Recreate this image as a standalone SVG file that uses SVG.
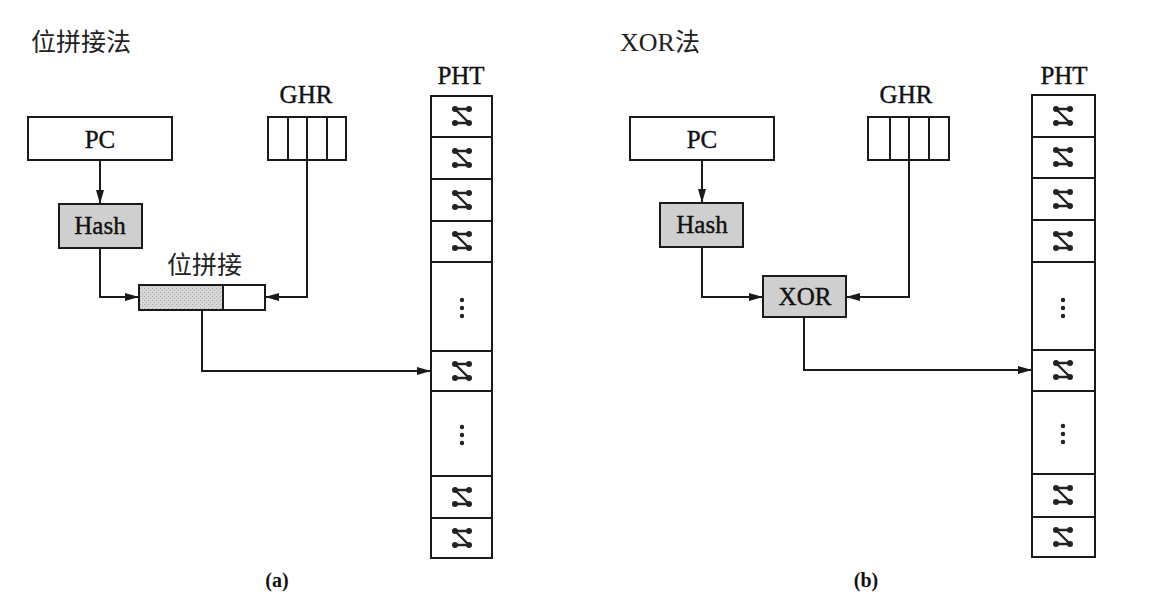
<svg xmlns="http://www.w3.org/2000/svg" xmlns:xlink="http://www.w3.org/1999/xlink" width="1168" height="592" viewBox="0 0 1168 592">
<style>
.box{fill:#fff;stroke:#1a1a1a;stroke-width:2}
.gray{fill:#cfcfcf;stroke:#1a1a1a;stroke-width:2}
.ln{fill:none;stroke:#1a1a1a;stroke-width:2}
.conn{fill:none;stroke:#1a1a1a;stroke-width:2;marker-end:url(#arr)}
.t{font-family:"Liberation Serif","Times New Roman",serif;font-size:25px;fill:#111;text-anchor:middle;stroke:#111;stroke-width:0.4}
.cj{font-family:"Noto Sans CJK SC","Liberation Serif",sans-serif;font-size:25px;fill:#222}
.lat{font-family:"Liberation Serif",serif;font-size:26px}
.cap{font-family:"Liberation Serif",serif;font-size:20px;font-weight:bold;fill:#111;text-anchor:middle}
</style>
<defs>
<marker id="arr" markerUnits="userSpaceOnUse" markerWidth="14" markerHeight="8" refX="14" refY="4" orient="auto">
<path d="M0,0 L14,4 L0,8 z" fill="#1a1a1a"/>
</marker>
<pattern id="speck" width="4" height="4" patternUnits="userSpaceOnUse">
<rect width="4" height="4" fill="#d6d6d6"/>
<rect x="0" y="0" width="1" height="1" fill="#a8a8a8"/>
<rect x="2" y="2" width="1" height="1" fill="#b4b4b4"/>
</pattern>
<g id="ctr">
<path d="M-7,-7 H7 M-7,-7 L7,7 M-7,7 H7" fill="none" stroke="#222" stroke-width="2.4"/>
<circle cx="-7" cy="-7" r="3" fill="#222"/>
<circle cx="7" cy="-7" r="3" fill="#222"/>
<circle cx="-7" cy="7" r="3" fill="#222"/>
<circle cx="7" cy="7" r="3" fill="#222"/>
</g>
<g id="vdots">
<circle cx="0" cy="-8" r="2.2" fill="#222"/>
<circle cx="0" cy="0" r="2.2" fill="#222"/>
<circle cx="0" cy="8" r="2.2" fill="#222"/>
</g>
</defs>
<rect width="1168" height="592" fill="#fff"/>

<!-- Left diagram (a) -->
<text class="cj" x="31" y="51">位拼接法</text>

<g id="pc-a">
<rect class="box" x="28" y="117" width="144" height="43"/>
<text class="t" x="100" y="148">PC</text>
</g>
<g id="ghr-a">
<text class="t" x="306" y="103" font-size="26">GHR</text>
<rect class="box" x="268" y="117" width="78" height="43"/>
<path class="ln" d="M288,117 V160 M307,117 V160 M327,117 V160"/>
</g>
<g id="hash-a">
<rect class="gray" x="59" y="204" width="83" height="44"/>
<text class="t" x="100" y="234" font-size="26">Hash</text>
</g>
<g id="concat-a">
<text class="cj" x="167" y="274" font-size="26">位拼接</text>
<rect x="139" y="285" width="84" height="25" fill="url(#speck)" stroke="#1a1a1a" stroke-width="2"/>
<rect class="box" x="223" y="285" width="42" height="25"/>
</g>
<g id="pht-a">
<text class="t" x="461" y="84" font-size="26">PHT</text>
<rect class="box" x="431" y="96" width="61" height="462"/>
<path class="ln" d="M431,137 H492 M431,179 H492 M431,221 H492 M431,262 H492 M431,351 H492 M431,391 H492 M431,476 H492 M431,518 H492"/>
<use xlink:href="#ctr" x="462" y="116"/>
<use xlink:href="#ctr" x="462" y="158"/>
<use xlink:href="#ctr" x="462" y="200"/>
<use xlink:href="#ctr" x="462" y="241"/>
<use xlink:href="#vdots" x="462" y="308"/>
<use xlink:href="#ctr" x="462" y="371"/>
<use xlink:href="#vdots" x="462" y="435"/>
<use xlink:href="#ctr" x="462" y="497"/>
<use xlink:href="#ctr" x="462" y="538"/>
</g>
<text class="cap" x="277" y="587">(a)</text>

<!-- Right diagram (b) -->
<text class="cj" x="620" y="51"><tspan class="lat">XOR</tspan>法</text>

<g id="pc-b">
<rect class="box" x="630" y="117" width="144" height="43"/>
<text class="t" x="702" y="148">PC</text>
</g>
<g id="ghr-b">
<text class="t" x="906" y="103" font-size="26">GHR</text>
<rect class="box" x="868" y="117" width="81" height="43"/>
<path class="ln" d="M890,117 V160 M909,117 V160 M929,117 V160"/>
</g>
<g id="hash-b">
<rect class="gray" x="660" y="203" width="83" height="44"/>
<text class="t" x="702" y="233" font-size="26">Hash</text>
</g>
<g id="xor-b">
<rect class="gray" x="763" y="276" width="83" height="41"/>
<text class="t" x="805" y="305" font-size="26">XOR</text>
</g>
<g id="pht-b">
<text class="t" x="1064" y="84" font-size="26">PHT</text>
<rect class="box" x="1032" y="95" width="63" height="462"/>
<path class="ln" d="M1032,137 H1095 M1032,178 H1095 M1032,220 H1095 M1032,262 H1095 M1032,350 H1095 M1032,391 H1095 M1032,474 H1095 M1032,517 H1095"/>
<use xlink:href="#ctr" x="1063" y="116"/>
<use xlink:href="#ctr" x="1063" y="157"/>
<use xlink:href="#ctr" x="1063" y="199"/>
<use xlink:href="#ctr" x="1063" y="241"/>
<use xlink:href="#vdots" x="1063" y="308"/>
<use xlink:href="#ctr" x="1063" y="370"/>
<use xlink:href="#vdots" x="1063" y="434"/>
<use xlink:href="#ctr" x="1063" y="495"/>
<use xlink:href="#ctr" x="1063" y="537"/>
</g>
<text class="cap" x="866" y="587">(b)</text>

<g id="connectors">
<path class="conn" d="M100,160 V204"/>
<path class="conn" d="M100,248 V297 H139"/>
<path class="conn" d="M307,160 V297 H265"/>
<path class="conn" d="M202,310 V371 H431"/>
<path class="conn" d="M702,160 V203"/>
<path class="conn" d="M702,247 V297 H763"/>
<path class="conn" d="M909,160 V297 H846"/>
<path class="conn" d="M804,317 V370 H1032"/>
</g>
</svg>
